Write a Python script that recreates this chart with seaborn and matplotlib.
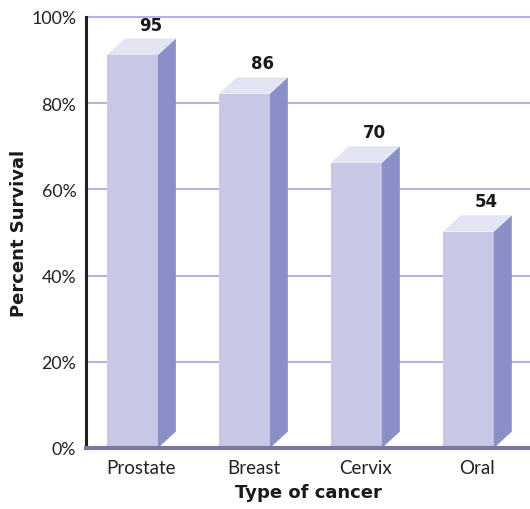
import numpy as np
import pandas as pd
import matplotlib
matplotlib.use("Agg")
import matplotlib.pyplot as plt
from matplotlib.patches import Polygon
import seaborn as sns

# Five-year survival by cancer type
categories = ["Prostate", "Breast", "Cervix", "Oral"]
survival = [95, 86, 70, 54]
y_ticks = [0, 20, 40, 60, 80, 100]
y_tick_labels = ["0%", "20%", "40%", "60%", "80%", "100%"]

FRONT = "#c6c8e5"
SIDE = "#8a8fc7"
TOP = "#e4e5f3"
GRID = "#b2b4e2"
INK = "#1a1a1a"

sns.set_theme(style="white")
plt.rcParams["font.family"] = ["Lato", "DejaVu Sans"]
BOLD = ["DejaVu Sans"]

fig = plt.figure(figsize=(5.3, 5.1), dpi=100)
ax = fig.add_axes([86 / 530, 61 / 510, 1 - 86 / 530, (449 - 18) / 510])

bar_w = 0.455          # width of the front face (category units)
dx = 0.16              # depth offset to the right
dy = 3.8               # depth offset upward (percent units)

values = np.array(survival, dtype=float)
df = pd.DataFrame({"cancer": categories, "front": values - dy})

sns.barplot(data=df, x="cancer", y="front", color=FRONT, saturation=1,
            width=bar_w, ax=ax, zorder=3, linewidth=0)

for patch, val in zip(ax.patches, values):
    xl = patch.get_x()
    xr = xl + patch.get_width()
    top = patch.get_height()
    side = Polygon([(xr, 0), (xr + dx, dy), (xr + dx, top + dy), (xr, top)],
                   closed=True, facecolor=SIDE, edgecolor="none", zorder=3)
    lid = Polygon([(xl, top), (xl + dx, top + dy), (xr + dx, top + dy), (xr, top)],
                  closed=True, facecolor=TOP, edgecolor="none", zorder=3)
    ax.add_patch(side)
    ax.add_patch(lid)
    ax.annotate(f"{val:.0f}", xy=(xl + dx + patch.get_width() / 2, val),
                xytext=(0, 3.5), textcoords="offset points",
                ha="center", va="bottom", fontsize=12, fontweight="bold",
                family=BOLD, color=INK, zorder=5)

ax.set_ylim(0, 100)
ax.set_xlim(-0.415, 3.55)
ax.set_yticks(y_ticks)
ax.set_yticklabels(y_tick_labels)
ax.set_xticks(np.arange(len(categories)) + dx / 2)
ax.set_xticklabels(categories)
ax.tick_params(axis="both", length=0, colors="#222222")
ax.tick_params(axis="y", pad=7, labelsize=12.8)
ax.tick_params(axis="x", pad=8, labelsize=13.5)

for yv in y_ticks[1:]:
    ax.axhline(yv, color=GRID, linewidth=1.5, zorder=1, clip_on=False)

for s in ("top", "right"):
    ax.spines[s].set_visible(False)
ax.spines["left"].set_color("#231f20")
ax.spines["left"].set_linewidth(2.2)
ax.spines["left"].set_zorder(6)
ax.spines["bottom"].set_color("#777a9c")
ax.spines["bottom"].set_linewidth(3)
ax.spines["bottom"].set_zorder(6)

ax.set_xlabel("Type of cancer", fontsize=13, fontweight="bold",
              family=BOLD, color=INK, labelpad=5)
ax.set_ylabel("Percent Survival", fontsize=13, fontweight="bold",
              family=BOLD, color=INK, labelpad=2)

fig.savefig("out.png", dpi=100)
